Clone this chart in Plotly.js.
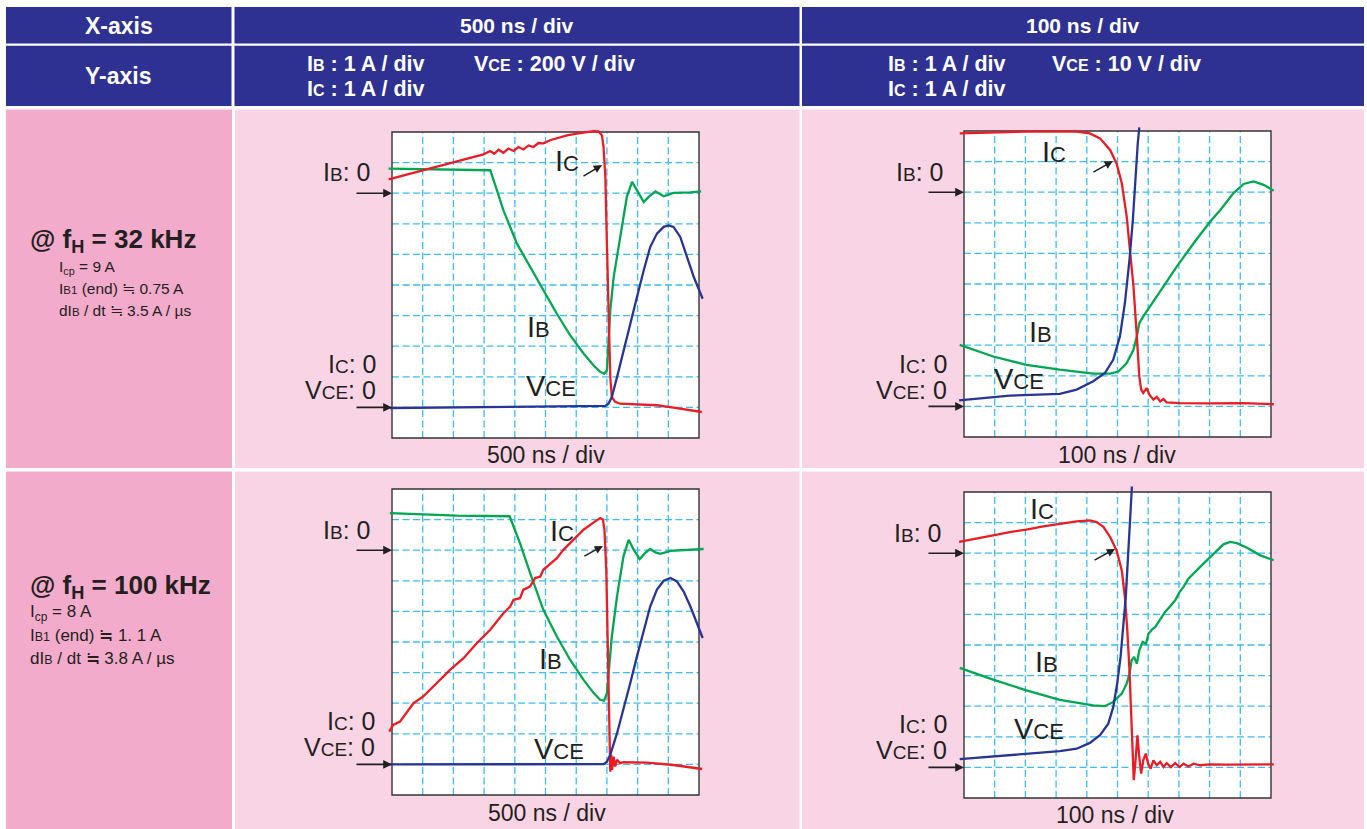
<!DOCTYPE html>
<html>
<head>
<meta charset="utf-8">
<script src="https://cdn.plot.ly/plotly-3.0.1.min.js"></script>
<style>html,body{margin:0;padding:0;background:#fff;}#chart{width:1367px;height:829px;}</style>
</head>
<body>
<div id="chart"></div>
<script>
// ---------- DATA (oscilloscope screen, in divisions: x 0..10, y 0..10) ----------
// Top-left: fH = 32 kHz, 500 ns/div
const p1_ic_t = [-0.11, 2.98, 3.20, 3.33, 3.47, 3.63, 3.79, 3.96, 4.12, 4.28, 4.45, 4.61, 4.77, 4.93, 5.15, 5.37, 5.70, 6.02, 6.35, 6.57, 6.73, 6.84, 6.89, 6.95, 7.00, 7.05, 7.11, 7.16, 7.27, 7.43, 8.09, 8.63, 9.17, 10.09];
const p1_ic   = [8.45, 9.27, 9.38, 9.29, 9.42, 9.32, 9.46, 9.38, 9.51, 9.43, 9.56, 9.51, 9.64, 9.63, 9.73, 9.80, 9.89, 9.95, 10.0, 10.03, 10.02, 9.89, 9.51, 8.53, 6.35, 4.17, 1.99, 1.34, 1.18, 1.12, 1.10, 1.07, 0.99, 0.85];
const p1_ib_t = [-0.11, 2.22, 3.20, 3.40, 3.63, 4.07, 4.50, 4.93, 5.37, 5.80, 6.24, 6.57, 6.78, 6.91, 7.00, 7.05, 7.11, 7.22, 7.43, 7.65, 7.82, 7.98, 8.20, 8.36, 8.58, 8.85, 9.17, 9.72, 10.07];
const p1_ib   = [8.80, 8.77, 8.75, 8.15, 7.44, 6.35, 5.59, 4.83, 4.06, 3.36, 2.76, 2.37, 2.16, 2.10, 2.21, 3.08, 4.17, 5.26, 6.57, 7.88, 8.37, 8.09, 7.71, 7.88, 8.06, 7.90, 8.01, 8.03, 8.06];
const p1_vce_t = [-0.07, 3.20, 6.95, 7.05, 7.16, 7.33, 7.54, 7.76, 7.98, 8.20, 8.41, 8.63, 8.85, 9.01, 9.17, 9.39, 9.61, 9.83, 10.12];
const p1_vce   = [0.98, 1.01, 1.05, 1.12, 1.34, 1.99, 2.86, 3.74, 4.61, 5.48, 6.24, 6.68, 6.90, 6.95, 6.90, 6.57, 5.92, 5.26, 4.55];

// Top-right: fH = 32 kHz, 100 ns/div
const p2_ic_t = [-0.14, 2.03, 3.67, 4.10, 4.43, 4.76, 4.97, 5.14, 5.30, 5.41, 5.52, 5.63, 5.71, 5.77, 5.84, 5.95, 6.04, 6.17, 6.28, 6.39, 6.50, 6.60, 6.77, 7.04, 8.02, 9.11, 10.09];
const p2_ic   = [9.92, 9.98, 9.98, 9.92, 9.76, 9.38, 8.94, 8.29, 7.20, 6.12, 4.92, 3.29, 1.98, 1.55, 1.44, 1.60, 1.38, 1.22, 1.31, 1.16, 1.24, 1.13, 1.13, 1.11, 1.10, 1.11, 1.07];
const p2_ib_t = [-0.14, 0.95, 2.03, 3.12, 4.21, 4.76, 5.03, 5.30, 5.52, 5.63, 5.71, 5.84, 6.39, 6.93, 7.48, 8.02, 8.35, 8.78, 9.11, 9.43, 9.76, 10.09];
const p2_ib   = [3.01, 2.63, 2.36, 2.20, 2.07, 2.07, 2.14, 2.42, 2.85, 3.29, 3.72, 3.94, 4.76, 5.57, 6.33, 7.04, 7.42, 7.97, 8.27, 8.35, 8.24, 8.05];
const p2_vce_t = [-0.16, 1.49, 3.12, 3.67, 4.21, 4.59, 4.86, 5.08, 5.24, 5.39, 5.50, 5.58, 5.66, 5.71];
const p2_vce   = [1.20, 1.35, 1.41, 1.55, 1.82, 2.09, 2.52, 3.29, 4.37, 5.79, 7.09, 8.51, 9.60, 10.12];

// Bottom-left: fH = 100 kHz, 500 ns/div
const p3_ic_t = [-0.09, 0.04, 0.26, 0.70, 1.02, 1.46, 1.89, 2.33, 2.76, 3.20, 3.63, 3.85, 3.96, 4.17, 4.28, 4.39, 4.50, 4.66, 4.83, 4.93, 5.15, 5.37, 5.59, 5.91, 6.24, 6.57, 6.78, 6.87, 6.92, 6.98, 7.02, 7.05, 7.09, 7.11, 7.14, 7.17, 7.22, 7.27, 7.33, 7.43, 7.54, 8.30, 9.17, 10.10];
const p3_ic   = [2.07, 2.29, 2.40, 3.00, 3.22, 3.65, 4.09, 4.47, 4.96, 5.40, 5.94, 6.16, 6.38, 6.43, 6.71, 6.76, 6.82, 7.09, 7.14, 7.36, 7.56, 7.74, 8.02, 8.34, 8.67, 8.91, 9.05, 9.00, 8.67, 7.36, 5.18, 3.00, 1.25, 0.76, 1.31, 0.82, 1.25, 0.93, 1.15, 1.04, 1.07, 1.06, 0.98, 0.85];
const p3_ib_t = [-0.07, 2.11, 3.83, 4.17, 4.50, 4.93, 5.37, 5.80, 6.24, 6.57, 6.78, 6.91, 7.00, 7.09, 7.16, 7.33, 7.54, 7.71, 7.87, 8.07, 8.25, 8.41, 8.58, 8.74, 9.07, 10.15];
const p3_ib   = [9.21, 9.13, 9.11, 8.23, 7.25, 6.05, 5.18, 4.42, 3.76, 3.33, 3.11, 3.08, 3.33, 4.31, 5.18, 6.49, 7.80, 8.34, 8.02, 7.71, 7.91, 8.04, 7.93, 7.88, 7.98, 8.04];
const p3_vce_t = [-0.07, 3.20, 6.89, 7.00, 7.11, 7.33, 7.54, 7.76, 7.98, 8.20, 8.41, 8.63, 8.85, 9.07, 9.28, 9.50, 9.72, 9.93, 10.12];
const p3_vce   = [1.00, 1.00, 1.01, 1.09, 1.31, 2.02, 2.78, 3.65, 4.53, 5.40, 6.16, 6.71, 7.00, 7.09, 6.98, 6.65, 6.16, 5.62, 5.13];

// Bottom-right: fH = 100 kHz, 100 ns/div
const p4_ic_t = [-0.16, 0.40, 0.95, 1.49, 2.03, 2.58, 3.12, 3.67, 4.10, 4.32, 4.54, 4.76, 4.97, 5.14, 5.24, 5.32, 5.39, 5.43, 5.46, 5.50, 5.53, 5.58, 5.65, 5.71, 5.77, 5.84, 5.92, 6.00, 6.08, 6.17, 6.28, 6.39, 6.50, 6.60, 6.74, 6.88, 7.02, 7.15, 7.31, 7.48, 7.69, 8.02, 8.56, 10.09];
const p4_ic   = [8.37, 8.47, 8.58, 8.69, 8.77, 8.88, 8.97, 9.04, 9.07, 9.02, 8.86, 8.53, 8.09, 7.44, 6.57, 5.48, 4.17, 3.08, 1.99, 0.90, 0.58, 1.12, 2.05, 1.34, 0.80, 1.23, 1.45, 1.12, 0.96, 1.23, 1.07, 1.18, 1.01, 1.14, 1.01, 1.14, 1.01, 1.12, 1.03, 1.12, 1.07, 1.10, 1.09, 1.10];
const p4_ib_t = [-0.14, 0.95, 2.03, 3.12, 4.21, 4.59, 4.86, 5.14, 5.30, 5.39, 5.46, 5.54, 5.63, 5.71, 5.82, 5.93, 6.01, 6.12, 6.23, 6.33, 6.44, 6.55, 6.71, 6.88, 7.02, 7.15, 7.31, 7.48, 7.80, 8.13, 8.45, 8.67, 8.89, 9.22, 9.65, 10.09];
const p4_ib   = [4.25, 3.87, 3.52, 3.21, 3.03, 3.00, 3.14, 3.41, 3.74, 4.06, 4.50, 4.61, 4.39, 4.83, 5.10, 5.04, 5.37, 5.50, 5.59, 5.75, 5.92, 6.08, 6.26, 6.46, 6.73, 6.90, 7.17, 7.33, 7.66, 7.98, 8.29, 8.37, 8.33, 8.18, 7.93, 7.77];
const p4_vce_t = [-0.14, 1.49, 3.12, 3.67, 4.10, 4.43, 4.70, 4.86, 4.99, 5.10, 5.19, 5.27, 5.33, 5.39, 5.43, 5.47];
const p4_vce   = [1.27, 1.39, 1.53, 1.61, 1.80, 2.05, 2.43, 2.97, 3.74, 4.61, 5.59, 6.57, 7.66, 8.75, 9.62, 10.18];

// Texts
const headerRow1 = ["X-axis", "500 ns / div", "100 ns / div"];
const timeLabels = ["500 ns / div", "100 ns / div", "500 ns / div", "100 ns / div"];
const conditions = [
  {title: "@ f<sub>H</sub> = 32 kHz", lines: ["I<sub>cp</sub> = 9 A", "I<span style='font-size:11.5px'>B1</span> (end) ≒ 0.75 A", "dI<span style='font-size:11.5px'>B</span> / dt ≒ 3.5 A / µs"]},
  {title: "@ f<sub>H</sub> = 100 kHz", lines: ["I<sub>cp</sub> = 8 A", "I<span style='font-size:12.5px'>B1</span> (end) ≒ 1. 1 A", "dI<span style='font-size:12.5px'>B</span> / dt ≒ 3.8 A / µs"]}
];
const ZERO_IB = 8, ZERO_IC_VCE = 1;   // zero reference levels (divisions)

// ---------- LAYOUT HELPERS ----------
const W = 1367, H = 829;
const FONT = "Liberation Sans, Arial, Helvetica, sans-serif";
const INK = "#231f20";
const C_RED = "#ec1c24", C_GRN = "#00a651", C_BLU = "#283593";
const BLUE_HDR = "#2e3192", PINK_D = "#f3abcb", PINK_L = "#f9d4e4";
const GRID = "#3dbcf0";
const XR = [-0.25, 10.25], YR = [-0.3, 10.35];
const BOX = [[392, 699, 132, 438], [964, 1271, 131, 437], [392, 699, 489, 795], [964, 1271, 492, 798]];
const px = x => x / W, py = y => 1 - y / H;
function dom(b) {
  const [L, R, T, B] = b, dx = (R - L) / 10, dy = (B - T) / 10;
  return {x: [(L + XR[0] * dx) / W, (L + XR[1] * dx) / W], y: [1 - (B - YR[0] * dy) / H, 1 - (B - YR[1] * dy) / H]};
}

const layout = {
  width: W, height: H, autosize: false,
  margin: {l: 0, r: 0, t: 0, b: 0, pad: 0},
  paper_bgcolor: "#ffffff", plot_bgcolor: "rgba(0,0,0,0)",
  showlegend: false, font: {family: FONT, color: INK},
  shapes: [], annotations: []
};

// table cells
function rect(x0, y0, x1, y1, color) {
  layout.shapes.push({type: "rect", xref: "paper", yref: "paper", x0: px(x0), x1: px(x1), y0: py(y1), y1: py(y0), fillcolor: color, line: {width: 0}, layer: "below"});
}
[[6, 231.5], [234.5, 799.5], [802, 1364]].forEach(([a, b]) => {
  rect(a, 7, b, 43.5, BLUE_HDR);
  rect(a, 45.8, b, 106, BLUE_HDR);
});
rect(6, 109.5, 232, 468, PINK_D); rect(235, 109.5, 799.5, 468, PINK_L); rect(802, 109.5, 1364, 468, PINK_L);
rect(6, 471.5, 232, 829, PINK_D); rect(235, 471.5, 799.5, 829, PINK_L); rect(802, 471.5, 1364, 829, PINK_L);

function txt(text, x, y, size, opts) {
  layout.annotations.push(Object.assign({xref: "paper", yref: "paper", x: px(x), y: py(y), text: text, showarrow: false,
    xanchor: "center", yanchor: "middle", font: {family: FONT, size: size, color: INK}}, opts || {}));
}
// header
const h1 = {family: FONT, size: 21, color: "#fff"};
txt("<b>" + headerRow1[0] + "</b>", 118.5, 25.5, 23, {font: {family: FONT, size: 23, color: "#fff"}});
txt("<b>" + headerRow1[1] + "</b>", 517, 25.5, 21, {font: h1});
txt("<b>" + headerRow1[2] + "</b>", 1083, 25.5, 21, {font: h1});
txt("<b>Y-axis</b>", 118.5, 76, 23, {font: {family: FONT, size: 23, color: "#fff"}});
const hf = {family: FONT, size: 21.5, color: "#fff"};
const sb = t => "<span style='font-size:16px'>" + t + "</span>";
txt("<b>I" + sb("B") + " : 1 A / div</b>", 305, 64.5, 21.5, {xanchor: "left", font: hf});
txt("<b>V" + sb("CE") + " : 200 V / div</b>", 472, 64.5, 21.5, {xanchor: "left", font: hf});
txt("<b>I" + sb("C") + " : 1 A / div</b>", 305, 88.5, 21.5, {xanchor: "left", font: hf});
txt("<b>I" + sb("B") + " : 1 A / div</b>", 886, 64.5, 21.5, {xanchor: "left", font: hf});
txt("<b>V" + sb("CE") + " : 10 V / div</b>", 1050, 64.5, 21.5, {xanchor: "left", font: hf});
txt("<b>I" + sb("C") + " : 1 A / div</b>", 886, 88.5, 21.5, {xanchor: "left", font: hf});

// left column conditions
txt("<b>" + conditions[0].title + "</b>", 28, 240, 26, {xanchor: "left", font: {family: FONT, size: 26, color: INK}});
[267, 288, 310].forEach((y, i) => txt(conditions[0].lines[i], 57, y, 15.5, {xanchor: "left", font: {family: FONT, size: 15.5, color: INK}}));
txt("<b>" + conditions[1].title + "</b>", 28, 586, 26, {xanchor: "left", font: {family: FONT, size: 26, color: INK}});
[613, 635, 658].forEach((y, i) => txt(conditions[1].lines[i], 28, y, 17, {xanchor: "left", font: {family: FONT, size: 17, color: INK}}));

// subplots
const data = [];
const series = [
  [[p1_ib_t, p1_ib], [p1_ic_t, p1_ic], [p1_vce_t, p1_vce]],
  [[p2_ib_t, p2_ib], [p2_ic_t, p2_ic], [p2_vce_t, p2_vce]],
  [[p3_ib_t, p3_ib], [p3_ic_t, p3_ic], [p3_vce_t, p3_vce]],
  [[p4_ib_t, p4_ib], [p4_ic_t, p4_ic], [p4_vce_t, p4_vce]]
];
const colors = [C_GRN, C_RED, C_BLU];
const names = ["I_B", "I_C", "V_CE"];

// label positions (pixels) per plot
const zeroLab = [
  {ib: [372, 172], ic: [378, 364], vce: [378, 390]},
  {ib: [945, 172], ic: [949, 363.5], vce: [949, 390]},
  {ib: [372, 530], ic: [377, 721], vce: [377, 747]},
  {ib: [943, 533], ic: [949, 724], vce: [949, 750]}
];
const curveLab = [
  {ic: [553, 161], ib: [525, 327], vce: [524, 386]},
  {ic: [1040, 152], ib: [1027, 332], vce: [992, 379]},
  {ic: [548, 531], ib: [537, 659], vce: [532, 749]},
  {ic: [1028, 509], ib: [1033, 662], vce: [1012, 729]}
];
const icArrow = [[6.84, 8.92, -20, 12], [4.85, 9.02, -21, 12], [6.87, 8.14, -20, 11], [4.92, 8.14, -22, 12]];
const tlPos = [[546, 455], [1117, 455], [547, 813], [1115, 815]];

const zsub = t => "<span style='font-size:19px'>" + t + "</span>";
const csub = t => "<span style='font-size:22px'>" + t + "</span>";

BOX.forEach((b, k) => {
  const n = k + 1, sfx = n === 1 ? "" : String(n);
  const d = dom(b);
  layout["xaxis" + sfx] = {domain: d.x, range: XR, visible: false, fixedrange: true, anchor: "y" + sfx};
  layout["yaxis" + sfx] = {domain: d.y, range: YR, visible: false, fixedrange: true, anchor: "x" + sfx};
  const xr = "x" + sfx, yr = "y" + sfx;
  // screen background + border
  layout.shapes.push({type: "rect", xref: xr, yref: yr, x0: 0, x1: 10, y0: 0, y1: 10, fillcolor: "#ffffff", line: {width: 0}, layer: "below"});
  for (let i = 1; i < 10; i++) {
    layout.shapes.push({type: "line", xref: xr, yref: yr, x0: i, x1: i, y0: 0, y1: 10, line: {color: GRID, width: 1.3, dash: "7px,3.5px"}, layer: "below"});
    layout.shapes.push({type: "line", xref: xr, yref: yr, x0: 0, x1: 10, y0: i, y1: i, line: {color: GRID, width: 1.3, dash: "7px,3.5px"}, layer: "below"});
  }
  layout.shapes.push({type: "rect", xref: xr, yref: yr, x0: 0, x1: 10, y0: 0, y1: 10, fillcolor: "rgba(0,0,0,0)", line: {color: "#333333", width: 1.4}, layer: "below"});
  series[k].forEach((s, j) => {
    data.push({type: "scatter", mode: "lines", x: s[0], y: s[1], xaxis: xr, yaxis: yr, name: names[j],
      line: {color: colors[j], width: 2.3}, hoverinfo: "skip"});
  });
  // zero arrows
  [ZERO_IB, ZERO_IC_VCE].forEach(lv => layout.annotations.push({xref: xr, yref: yr, x: 0, y: lv, ax: -37, ay: 0, text: "",
    showarrow: true, arrowhead: 2, arrowsize: 1.1, arrowwidth: 1.6, arrowcolor: INK}));
  // IC small arrow
  const a = icArrow[k];
  layout.annotations.push({xref: xr, yref: yr, x: a[0], y: a[1], ax: a[2], ay: a[3], text: "",
    showarrow: true, arrowhead: 2, arrowsize: 1.1, arrowwidth: 1.5, arrowcolor: INK});
  // labels
  const z = zeroLab[k], c = curveLab[k];
  const zf = {family: FONT, size: 25, color: INK}, cf = {family: FONT, size: 29, color: INK};
  txt("I" + zsub("B") + ": 0", z.ib[0], z.ib[1], 25, {xanchor: "right", font: zf});
  txt("I" + zsub("C") + ": 0", z.ic[0], z.ic[1], 25, {xanchor: "right", font: zf});
  txt("V" + zsub("CE") + ": 0", z.vce[0], z.vce[1], 25, {xanchor: "right", font: zf});
  txt("I" + csub("C"), c.ic[0], c.ic[1], 29, {xanchor: "left", font: cf});
  txt("I" + csub("B"), c.ib[0], c.ib[1], 29, {xanchor: "left", font: cf});
  txt("V" + csub("CE"), c.vce[0], c.vce[1], 29, {xanchor: "left", font: cf});
  txt(timeLabels[k], tlPos[k][0], tlPos[k][1], 23, {font: {family: FONT, size: 23, color: INK}});
});

Plotly.newPlot("chart", data, layout, {displayModeBar: false, staticPlot: true});
</script>
</body>
</html>
